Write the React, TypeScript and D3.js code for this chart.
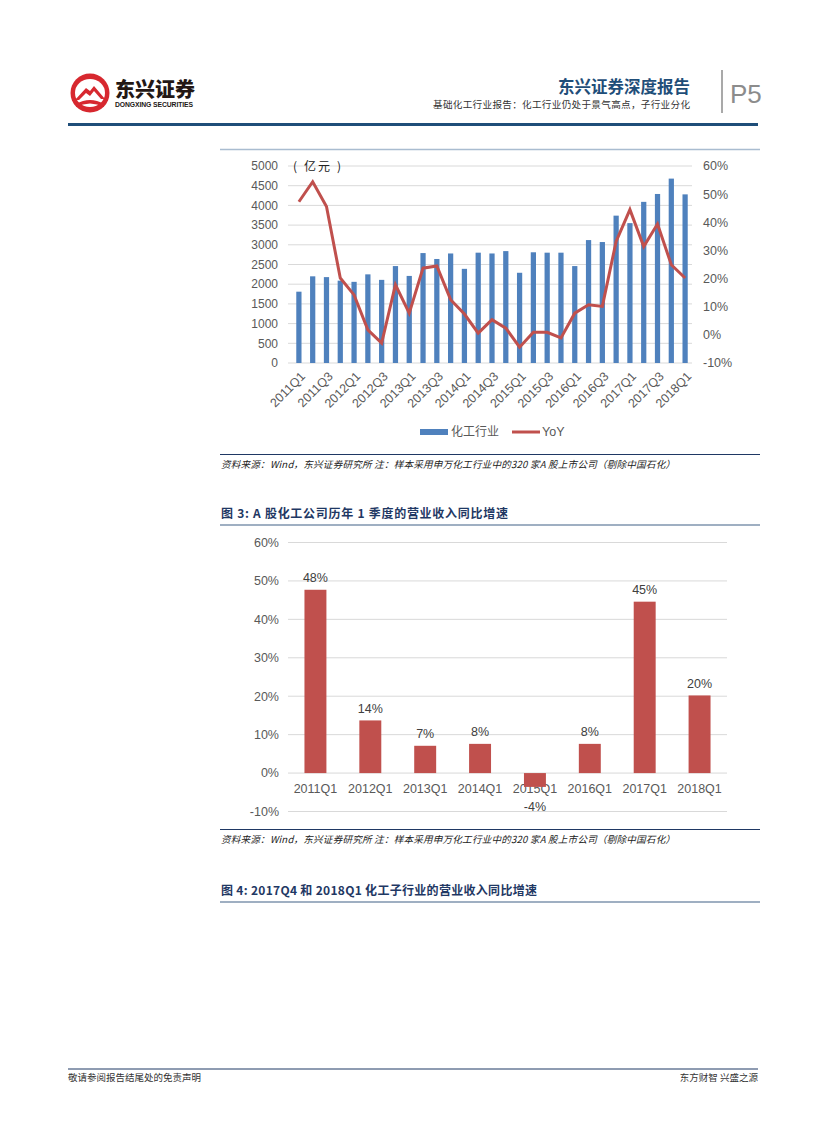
import React from "react";
import * as d3 from "d3";

const quarters = [
  "2011Q1","2011Q2","2011Q3","2011Q4","2012Q1","2012Q2","2012Q3","2012Q4",
  "2013Q1","2013Q2","2013Q3","2013Q4","2014Q1","2014Q2","2014Q3","2014Q4",
  "2015Q1","2015Q2","2015Q3","2015Q4","2016Q1","2016Q2","2016Q3","2016Q4",
  "2017Q1","2017Q2","2017Q3","2017Q4","2018Q1",
];
const revenue = [
  1810, 2200, 2180, 2090, 2060, 2250, 2110, 2460,
  2210, 2790, 2640, 2780, 2390, 2800, 2780, 2840,
  2290, 2810, 2800, 2800, 2460, 3120, 3070, 3740,
  3550, 4090, 4290, 4680, 4280,
];
const yoy = [
  47.3, 54.4, 45.6, 20.2, 14.2, 1.8, -2.9, 17.8,
  7.7, 23.7, 24.5, 12.5, 7.4, 0.6, 5.4, 2.4,
  -4.4, 0.9, 0.9, -1.1, 7.7, 10.7, 10.1, 33.2,
  44.5, 31.4, 39.4, 24.9, 20.2,
];
const leftTicks = [0, 500, 1000, 1500, 2000, 2500, 3000, 3500, 4000, 4500, 5000];
const rightTicks = [-10, 0, 10, 20, 30, 40, 50, 60];

const q1Labels = ["2011Q1","2012Q1","2013Q1","2014Q1","2015Q1","2016Q1","2017Q1","2018Q1"];
const q1Growth = [47.7, 13.7, 7.1, 7.6, -3.6, 7.6, 44.6, 20.2];
const chart2Ticks = [-10, 0, 10, 20, 30, 40, 50, 60];

const SANS = "'Liberation Sans', Arial, Helvetica, sans-serif";
const CJK = "'Noto Sans CJK SC', 'Noto Sans', sans-serif";
const NAVY = "#1F3864";
const BLUE = "#4F81BD";
const RED = "#C0504D";
const GRID = "#D9D9D9";
const AXIS_TXT = "#595959";

const sourceText = "资料来源：Wind，东兴证券研究所 注：样本采用申万化工行业中的320 家A 股上市公司（剔除中国石化）";

function Chart1() {
  const x = d3.scaleBand<string>().domain(quarters).range([292, 692]).paddingInner(0.62).paddingOuter(0.31);
  const yL = d3.scaleLinear().domain([0, 5000]).range([363, 166]);
  const yR = d3.scaleLinear().domain([-10, 60]).range([363, 166]);
  const cx = (q: string) => (x(q) as number) + x.bandwidth() / 2;
  const line = d3.line<number>().x((_, i) => cx(quarters[i])).y((d) => yR(d));
  return (
    <g>
      {leftTicks.map((t) => (
        <line key={"g" + t} x1={288} x2={692} y1={yL(t)} y2={yL(t)} stroke={GRID} strokeWidth={1} />
      ))}
      {leftTicks.map((t) => (
        <text key={"l" + t} x={278} y={yL(t)} dy="0.35em" textAnchor="end" fontFamily={SANS} fontSize={12} fill={AXIS_TXT}>{t}</text>
      ))}
      {rightTicks.map((t) => (
        <text key={"r" + t} x={703} y={yR(t)} dy="0.35em" textAnchor="start" fontFamily={SANS} fontSize={12.5} fill={AXIS_TXT}>{t + "%"}</text>
      ))}
      <text x={293} y={167} dy="0.35em" fontFamily={CJK} fontSize={12} fill="#222" textLength={48} lengthAdjust="spacing">( 亿元 )</text>
      {quarters.map((q, i) => (
        <rect key={q} x={x(q)} y={yL(revenue[i])} width={x.bandwidth()} height={yL(0) - yL(revenue[i])} fill={BLUE} />
      ))}
      <path d={line(yoy) || ""} fill="none" stroke={RED} strokeWidth={3} strokeLinejoin="miter" />
      {quarters.filter((_, i) => i % 2 === 0).map((q) => (
        <text key={"x" + q} transform={`translate(${cx(q) + 4},${374}) rotate(-45)`} textAnchor="end" dy="0.35em" fontFamily={SANS} fontSize={12.5} fill={AXIS_TXT}>{q}</text>
      ))}
      <rect x={420} y={429} width={28} height={6} fill={BLUE} />
      <text x={451} y={432} dy="0.35em" fontFamily={CJK} fontSize={12} fill={AXIS_TXT}>化工行业</text>
      <line x1={512} x2={540} y1={432} y2={432} stroke={RED} strokeWidth={3} />
      <text x={542} y={432} dy="0.35em" fontFamily={SANS} fontSize={12.5} fill={AXIS_TXT}>YoY</text>
    </g>
  );
}

function Chart2() {
  const x = d3.scaleBand<string>().domain(q1Labels).range([288, 727]).paddingInner(0.6).paddingOuter(0.3);
  const y = d3.scaleLinear().domain([-10, 60]).range([811.5, 542.5]);
  const cx = (q: string) => (x(q) as number) + x.bandwidth() / 2;
  return (
    <g>
      {chart2Ticks.map((t) => (
        <line key={"g" + t} x1={288} x2={727} y1={y(t)} y2={y(t)} stroke={GRID} strokeWidth={1} />
      ))}
      {chart2Ticks.map((t) => (
        <text key={"l" + t} x={279} y={y(t)} dy="0.35em" textAnchor="end" fontFamily={SANS} fontSize={12.5} fill={AXIS_TXT}>{t + "%"}</text>
      ))}
      {q1Labels.map((q) => (
        <text key={"x" + q} x={cx(q)} y={789} dy="0.35em" textAnchor="middle" fontFamily={SANS} fontSize={12.5} fill={AXIS_TXT}>{q}</text>
      ))}
      {q1Labels.map((q, i) => {
        const v = q1Growth[i];
        const top = y(Math.max(0, v));
        const h = Math.abs(y(v) - y(0));
        return <rect key={q} x={x(q)} y={top} width={x.bandwidth()} height={h} fill={RED} />;
      })}
      {q1Labels.map((q, i) => {
        const v = q1Growth[i];
        const ly = v >= 0 ? y(v) - 12 : y(v) + 20;
        return (
          <text key={"v" + q} x={cx(q)} y={ly} dy="0.35em" textAnchor="middle" fontFamily={SANS} fontSize={12.5} fill="#404040">{Math.round(v) + "%"}</text>
        );
      })}
    </g>
  );
}

function Header() {
  return (
    <g>
      <circle cx={90} cy={93} r={19.5} fill="#D7282F" />
      <ellipse cx={90} cy={93} rx={15} ry={14} fill="#fff" />
      <path d="M75,100 L86,88 L90,91 L94,86 L105,99 L101,99 L94,91 L90,96 L86,93 L79,100 Z" fill="#D7282F" />
      <path d="M76,104 Q90,96 104,104 L104,107 Q90,100 76,107 Z" fill="#D7282F" />
      <text x={115} y={90} dy="0.35em" fontFamily={CJK} fontWeight={900} fontSize={20} fill="#231815">东兴证券</text>
      <text x={115} y={105} dy="0.35em" fontFamily={SANS} fontWeight={700} fontSize={6.8} fill="#231815" textLength={78}>DONGXING SECURITIES</text>
      <text x={690} y={87} dy="0.35em" textAnchor="end" fontFamily={CJK} fontWeight={700} fontSize={16.5} fill="#1F4E79">东兴证券深度报告</text>
      <text x={433} y={104.5} dy="0.35em" textAnchor="start" fontFamily={CJK} fontSize={9.6} fill="#333" textLength={257} lengthAdjust="spacing">基础化工行业报告：化工行业仍处于景气高点，子行业分化</text>
      <line x1={722} x2={722} y1={70} y2={113} stroke="#8C8C8C" strokeWidth={1.5} />
      <text x={730} y={94} dy="0.35em" fontFamily={SANS} fontSize={26} fill="#8C8C8C">P5</text>
      <line x1={68} x2={758} y1={124.5} y2={124.5} stroke="#1F4E79" strokeWidth={3} />
    </g>
  );
}

export default function App() {
  return (
    <svg width={827} height={1122} style={{ position: "absolute", left: 0, top: 0, background: "#fff" }}>
      <rect x={0} y={0} width={827} height={1122} fill="#fff" />
      <Header />
      <line x1={220} x2={760} y1={149.5} y2={149.5} stroke="#A9BCD0" strokeWidth={1.5} />
      <Chart1 />
      <line x1={220} x2={760} y1={454.5} y2={454.5} stroke={NAVY} strokeWidth={1} />
      <text x={221} y={465} dy="0.35em" fontFamily={CJK} fontStyle="italic" fontSize={9.6} fill="#222" textLength={454} lengthAdjust="spacing">{sourceText}</text>
      <text x={221} y={514} dy="0.35em" fontFamily={CJK} fontWeight={700} fontSize={12} fill={NAVY} textLength={287} lengthAdjust="spacing">图 3:  A 股化工公司历年 1 季度的营业收入同比增速</text>
      <line x1={220} x2={760} y1={525} y2={525} stroke="#7F95AE" strokeWidth={1.5} />
      <Chart2 />
      <line x1={220} x2={760} y1={829.5} y2={829.5} stroke={NAVY} strokeWidth={1} />
      <text x={221} y={840} dy="0.35em" fontFamily={CJK} fontStyle="italic" fontSize={9.6} fill="#222" textLength={454} lengthAdjust="spacing">{sourceText}</text>
      <text x={221} y={891} dy="0.35em" fontFamily={CJK} fontWeight={700} fontSize={12} fill={NAVY} textLength={316} lengthAdjust="spacing">图 4: 2017Q4 和 2018Q1 化工子行业的营业收入同比增速</text>
      <line x1={220} x2={760} y1={902} y2={902} stroke="#7F95AE" strokeWidth={1.5} />
      <line x1={68} x2={758} y1={1069} y2={1069} stroke={NAVY} strokeWidth={1} />
      <text x={68} y={1078} dy="0.35em" fontFamily={CJK} fontSize={9.5} fill="#333">敬请参阅报告结尾处的免责声明</text>
      <text x={758} y={1078} dy="0.35em" textAnchor="end" fontFamily={CJK} fontSize={9.5} fill="#333">东方财智 兴盛之源</text>
    </svg>
  );
}
